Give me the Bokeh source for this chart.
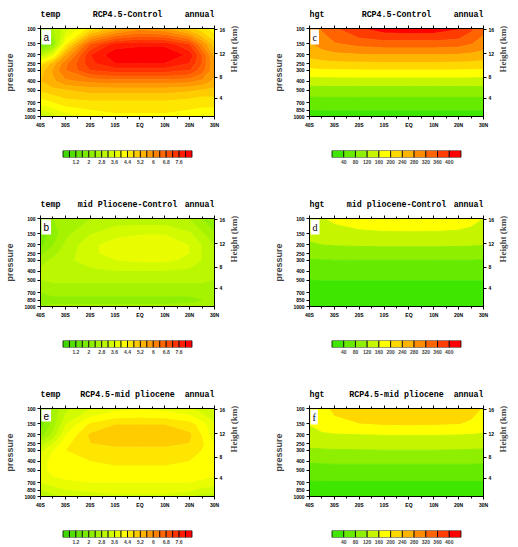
import math
import numpy as np
from bokeh.plotting import figure
from bokeh.models import Range1d, FixedTicker, LinearAxis, LogAxis, Label
from bokeh.core.properties import value
from bokeh.layouts import row, column
from bokeh.embed import file_html
from bokeh.resources import INLINE

# ---------------- data ----------------
LAT = [-40, -35, -30, -20, -10, 0, 10, 20, 25, 30]
PLEV = [100, 150, 200, 250, 300, 400, 500, 600, 700, 850, 1000]

LAT_TICKS = [-40, -30, -20, -10, 0, 10, 20, 30]
LAT_LABELS = ["40S", "30S", "20S", "10S", "EQ", "10N", "20N", "30N"]
LAT_MINOR = [-35, -25, -15, -5, 5, 15, 25]
P_TICKS = [100, 150, 200, 250, 300, 400, 500, 700, 850, 1000]
HGT_KM = ["4", "8", "12", "16"]
HGT_P = [616.4, 356.5, 194.0, 103.5]   # standard-atmosphere pressure of 4, 8, 12, 16 km

TEMP_LEVELS = [0.8, 1.2, 1.6, 2.0, 2.4, 2.8, 3.2, 3.6, 4.0, 4.4, 4.8, 5.2, 5.6, 6.0, 6.4, 6.8, 7.2, 7.6, 8.0]
TEMP_LABELS = ["", "1.2", "", "2", "", "2.8", "", "3.6", "", "4.4", "", "5.2", "", "6", "", "6.8", "", "7.6", ""]
TEMP_COLORS = ["#40d800", "#52de00", "#66e400", "#7aea00", "#8fef00", "#a5f300", "#bbf700", "#d2fb00",
               "#e9fd00", "#ffff00", "#ffe600", "#ffcc00", "#ffb300", "#ff9900", "#ff8000", "#ff6600",
               "#ff4d00", "#ff3300", "#ff1a00", "#ff0000"]

HGT_LEVELS = [40, 80, 120, 160, 200, 240, 280, 320, 360, 400]
HGT_LABELS = ["40", "80", "120", "160", "200", "240", "280", "320", "360", "400"]
HGT_COLORS = ["#3fe600", "#66ea00", "#8fef00", "#c6f500", "#ffff00", "#ffd800", "#ffb400",
              "#ff8c00", "#ff6400", "#ff3c00", "#ff0000"]

# rows follow PLEV (100 hPa first), columns follow LAT
TEMP_RCP_CTRL = [
    [2.2, 2.8, 3.4, 4.6, 5.4, 5.9, 5.7, 5.0, 4.6, 4.2],
    [1.8, 2.2, 4.4, 6.8, 7.8, 7.9, 7.9, 7.2, 6.0, 5.0],
    [3.0, 4.0, 5.6, 7.6, 8.3, 8.4, 8.4, 7.9, 6.8, 5.5],
    [4.6, 5.4, 6.3, 7.5, 8.0, 8.0, 8.0, 7.6, 6.8, 5.7],
    [5.0, 5.7, 6.4, 7.2, 7.4, 7.4, 7.4, 7.2, 6.6, 5.7],
    [5.2, 5.5, 5.9, 6.1, 6.2, 6.2, 6.2, 6.1, 5.9, 5.5],
    [4.9, 5.1, 5.2, 5.4, 5.4, 5.4, 5.4, 5.3, 5.2, 5.1],
    [4.5, 4.7, 4.9, 5.0, 5.0, 5.0, 5.0, 4.9, 4.8, 4.8],
    [4.2, 4.4, 4.6, 4.7, 4.7, 4.7, 4.7, 4.6, 4.6, 4.6],
    [3.6, 3.9, 4.2, 4.4, 4.5, 4.5, 4.5, 4.4, 4.3, 4.3],
    [3.0, 3.4, 3.8, 4.1, 4.3, 4.3, 4.3, 4.1, 3.9, 4.0],
]
TEMP_PLIO_CTRL = [
    [2.2, 2.4, 2.6, 2.8, 3.0, 3.0, 3.0, 2.8, 2.4, 2.0],
    [1.8, 2.2, 2.7, 3.2, 3.5, 3.6, 3.6, 3.3, 2.9, 2.5],
    [1.9, 2.4, 2.9, 3.5, 3.8, 3.9, 3.9, 3.6, 3.2, 2.8],
    [2.3, 2.7, 3.0, 3.5, 3.8, 3.8, 3.8, 3.6, 3.2, 2.9],
    [2.7, 2.9, 3.1, 3.4, 3.6, 3.7, 3.7, 3.5, 3.2, 3.0],
    [2.9, 3.0, 3.0, 3.1, 3.2, 3.2, 3.2, 3.1, 3.0, 2.9],
    [2.8, 2.9, 2.9, 2.9, 2.9, 2.9, 2.9, 2.9, 2.9, 2.8],
    [2.6, 2.7, 2.7, 2.7, 2.7, 2.7, 2.7, 2.7, 2.7, 2.6],
    [2.4, 2.5, 2.5, 2.5, 2.5, 2.5, 2.5, 2.5, 2.5, 2.5],
    [2.2, 2.3, 2.3, 2.3, 2.3, 2.3, 2.3, 2.3, 2.4, 2.5],
    [2.4, 2.5, 2.5, 2.5, 2.5, 2.5, 2.5, 2.6, 2.8, 2.8],
]
TEMP_RCP_PLIO = [
    [2.0, 2.6, 3.1, 3.6, 3.9, 4.0, 3.9, 3.7, 3.4, 3.2],
    [1.8, 2.6, 3.6, 4.5, 4.8, 4.8, 4.8, 4.6, 4.2, 3.7],
    [2.2, 3.0, 4.0, 4.9, 5.0, 5.0, 5.0, 4.9, 4.4, 3.8],
    [3.0, 3.6, 4.3, 4.8, 4.9, 4.9, 4.9, 4.8, 4.5, 4.0],
    [3.5, 4.0, 4.4, 4.7, 4.7, 4.7, 4.7, 4.6, 4.4, 4.1],
    [3.9, 4.1, 4.3, 4.4, 4.5, 4.5, 4.5, 4.4, 4.3, 4.1],
    [3.9, 4.1, 4.2, 4.3, 4.3, 4.3, 4.3, 4.3, 4.2, 4.1],
    [3.8, 4.0, 4.1, 4.2, 4.2, 4.2, 4.2, 4.2, 4.1, 4.0],
    [3.6, 3.8, 3.9, 4.0, 4.0, 4.0, 4.0, 4.0, 3.9, 3.8],
    [3.2, 3.4, 3.6, 3.7, 3.8, 3.8, 3.8, 3.7, 3.5, 3.4],
    [2.9, 3.1, 3.3, 3.4, 3.5, 3.5, 3.5, 3.3, 3.0, 3.1],
]
HGT_RCP_CTRL = [
    [290, 325, 355, 398, 420, 425, 423, 405, 370, 330],
    [276, 298, 316, 333, 340, 340, 340, 336, 322, 305],
    [252, 262, 270, 276, 278, 278, 278, 276, 270, 262],
    [222, 228, 231, 233, 234, 234, 234, 233, 231, 228],
    [192, 195, 196, 197, 198, 198, 198, 197, 196, 195],
    [138, 139, 140, 140, 140, 140, 140, 140, 140, 139],
    [104, 105, 105, 105, 105, 105, 105, 105, 105, 105],
    [80, 81, 81, 81, 81, 81, 81, 81, 81, 81],
    [63, 64, 64, 64, 64, 64, 64, 64, 64, 64],
    [41, 42, 42, 42, 42, 42, 42, 42, 42, 42],
    [14, 15, 15, 15, 15, 15, 15, 15, 15, 15],
]
HGT_PLIO_CTRL = [
    [146, 158, 166, 178, 186, 188, 187, 180, 170, 160],
    [132, 142, 148, 152, 154, 154, 154, 152, 150, 146],
    [114, 120, 122, 124, 125, 125, 125, 124, 123, 121],
    [95, 97, 98, 99, 99, 99, 99, 99, 98, 97],
    [77, 78, 79, 79, 79, 79, 79, 79, 79, 78],
    [57, 58, 58, 58, 58, 58, 58, 58, 58, 58],
    [40, 41, 41, 41, 41, 41, 41, 41, 41, 41],
    [31, 32, 32, 32, 32, 32, 32, 32, 32, 32],
    [23, 24, 24, 24, 24, 24, 24, 24, 24, 24],
    [14, 15, 15, 15, 15, 15, 15, 15, 15, 15],
    [5, 5, 5, 5, 5, 5, 5, 5, 5, 5],
]
HGT_RCP_PLIO = [
    [170, 190, 208, 226, 234, 236, 235, 228, 215, 198],
    [162, 178, 190, 200, 205, 206, 205, 202, 194, 182],
    [148, 154, 157, 159, 161, 161, 161, 160, 158, 155],
    [130, 133, 135, 136, 137, 137, 137, 136, 135, 133],
    [114, 116, 117, 118, 119, 119, 119, 118, 117, 116],
    [84, 85, 86, 86, 86, 86, 86, 86, 86, 85],
    [64, 65, 66, 66, 66, 66, 66, 66, 66, 65],
    [48, 49, 49, 49, 49, 49, 49, 49, 49, 49],
    [36, 37, 37, 37, 37, 37, 37, 37, 37, 37],
    [24, 25, 25, 25, 25, 25, 25, 25, 25, 25],
    [9, 10, 10, 10, 10, 10, 10, 10, 10, 10],
]

PANELS = [
    # (field, var, title, letter, letter font, levels, labels, colors)
    (TEMP_RCP_CTRL, "temp", "RCP4.5-Control", "a", "Liberation Sans", TEMP_LEVELS, TEMP_LABELS, TEMP_COLORS),
    (HGT_RCP_CTRL, "hgt", "RCP4.5-Control", "c", "Liberation Serif", HGT_LEVELS, HGT_LABELS, HGT_COLORS),
    (TEMP_PLIO_CTRL, "temp", "mid Pliocene-Control", "b", "Liberation Sans", TEMP_LEVELS, TEMP_LABELS, TEMP_COLORS),
    (HGT_PLIO_CTRL, "hgt", "mid pliocene-Control", "d", "Liberation Serif", HGT_LEVELS, HGT_LABELS, HGT_COLORS),
    (TEMP_RCP_PLIO, "temp", "RCP4.5-mid pliocene", "e", "Liberation Sans", TEMP_LEVELS, TEMP_LABELS, TEMP_COLORS),
    (HGT_RCP_PLIO, "hgt", "RCP4.5-mid pliocene", "f", "Liberation Serif", HGT_LEVELS, HGT_LABELS, HGT_COLORS),
]

TICK_FONT = "Liberation Sans"
TITLE_FONT = "Liberation Mono"
FRAME_W = 174
BAR_W = 129


def style_axis(ax):
    ax.major_label_text_font = TICK_FONT
    ax.major_label_text_font_style = "bold"
    ax.major_label_text_font_size = "5px"
    ax.major_label_text_color = "black"
    ax.major_tick_in = 0
    ax.major_tick_out = 3
    ax.minor_tick_in = 0
    ax.minor_tick_out = 2
    ax.major_label_standoff = 2
    ax.axis_line_color = "black"
    ax.major_tick_line_color = "black"
    ax.minor_tick_line_color = "black"


def base_fig(h, bl, br, bt, bb, xr, yr, **kw):
    f = figure(width=259, height=h, x_range=xr, y_range=yr, output_backend="svg",
               toolbar_location=None, min_border_left=bl, min_border_right=br,
               min_border_top=bt, min_border_bottom=bb, **kw)
    f.grid.visible = False
    return f


def make_panel(field, var, title, letter, letter_font, levels, labels, colors, left, cb_height):
    bl, br = (40, 45) if left else (50, 35)
    lat_lo, lat_hi = LAT_TICKS[0], LAT_TICKS[-1]

    # ---- title strip ----
    t = base_fig(22, bl, br, 0, 0, Range1d(lat_lo, lat_hi), Range1d(-0.35, 0.65),
                 x_axis_location=None, y_axis_location=None)
    t.outline_line_color = None
    t.text(x=[lat_lo, (lat_lo + lat_hi) / 2, lat_hi], y=[0, 0, 0], text=[var, title, "annual"],
           text_align=["left", "center", "right"], text_baseline="alphabetic",
           text_font=value(TITLE_FONT), text_font_style="bold", text_font_size=value("8.3px"),
           text_color="black")

    # ---- main panel ----
    p = base_fig(110, bl, br, 6, 16, Range1d(lat_lo, lat_hi),
                 Range1d(max(P_TICKS), min(P_TICKS)), y_axis_type="log")
    p.outline_line_color = "black"

    z = np.array(field, dtype=float)
    clev = [-1.0e4] + list(levels) + [1.0e4]
    p.contour(x=LAT, y=PLEV, z=z, levels=clev, fill_color=colors,
              line_color=[colors[0]] + list(colors), line_width=1.0)

    xa = p.xaxis[0]
    xa.ticker = FixedTicker(ticks=LAT_TICKS, minor_ticks=LAT_MINOR)
    xa.major_label_overrides = dict(zip(LAT_TICKS, LAT_LABELS))
    style_axis(xa)
    ta = LinearAxis(ticker=FixedTicker(ticks=LAT_TICKS, minor_ticks=LAT_MINOR),
                    major_label_overrides={v: "" for v in LAT_TICKS})
    style_axis(ta)
    ta.major_label_standoff = 0
    p.add_layout(ta, "above")

    ya = p.yaxis[0]
    ya.ticker = FixedTicker(ticks=P_TICKS, minor_ticks=[])
    ya.major_label_overrides = {v: str(v) for v in P_TICKS}
    style_axis(ya)
    ya.axis_label = "pressure"
    ya.axis_label_text_font = "Liberation Sans"
    ya.axis_label_text_font_style = "bold"
    ya.axis_label_text_font_size = "9px"
    ya.axis_label_standoff = 6

    ra = LogAxis(ticker=FixedTicker(ticks=HGT_P, minor_ticks=[]),
                 major_label_overrides=dict(zip(HGT_P, HGT_KM)))
    style_axis(ra)
    ra.axis_label = "Height (km)"
    ra.axis_label_text_font = "Liberation Serif"
    ra.axis_label_text_font_style = "bold"
    ra.axis_label_text_font_size = "9px"
    ra.axis_label_standoff = 6
    ra.axis_label_orientation = math.pi / 2
    p.add_layout(ra, "right")

    p.add_layout(Label(x=lat_lo, y=min(P_TICKS), x_offset=1, y_offset=-1, text=letter,
                       text_align="left", text_baseline="top", text_font=letter_font,
                       text_font_size="10px", text_color="black",
                       background_fill_color="white", padding=2))

    # ---- colour bar ----
    step = levels[1] - levels[0]
    edges = [levels[0] - step] + list(levels) + [levels[-1] + step]
    span = edges[-1] - edges[0]
    pad = span * (FRAME_W - BAR_W) / 2.0 / BAR_W
    cb = base_fig(cb_height, bl, br, 18, cb_height - 25,
                  Range1d(edges[0] - pad, edges[-1] + pad), Range1d(0, 1), y_axis_location=None)
    cb.outline_line_color = None
    cb.quad(left=edges[:-1], right=edges[1:], bottom=0, top=1, fill_color=colors,
            line_color="black", line_width=0.8)
    ca = cb.xaxis[0]
    ca.ticker = FixedTicker(ticks=list(levels), minor_ticks=[])
    ca.major_label_overrides = dict(zip(levels, labels))
    ca.major_label_text_font = TICK_FONT
    ca.major_label_text_font_style = "bold"
    ca.major_label_text_font_size = "5px"
    ca.major_tick_in = 0
    ca.major_tick_out = 0
    ca.minor_tick_in = 0
    ca.minor_tick_out = 0
    ca.major_tick_line_color = None
    ca.axis_line_color = None
    ca.major_label_standoff = 2
    return column(t, p, cb, spacing=0)


rows = []
for r in range(3):
    cbh = 58 if r < 2 else 35
    cells = []
    for c in range(2):
        f, var, title, letter, lf, lev, lab, col = PANELS[r * 2 + c]
        cells.append(make_panel(f, var, title, letter, lf, lev, lab, col, c == 0, cbh))
    rows.append(row(*cells, spacing=0))

layout = column(*rows, spacing=0)
open("out.html", "w").write(file_html(layout, INLINE))
